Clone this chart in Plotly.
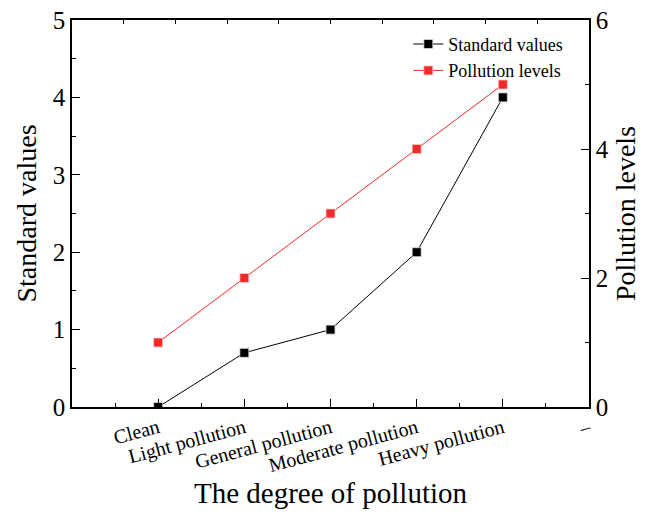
import plotly.graph_objects as go

categories = ["Clean", "Light pollution", "General pollution", "Moderate pollution", "Heavy pollution"]
cat_pos = [1, 2, 3, 4, 5]
tick_labels = ["Clean", "Light pollution", "General pollution", "Moderate pollution", "Heavy pollution", "\u2013"]
tick_pos = [1, 2, 3, 4, 5, 6]
standard_values = [0, 0.7, 1.0, 2.0, 4.0]
pollution_levels = [1, 2, 3, 4, 5]

FONT = "Liberation Serif"

fig = go.Figure()
fig.add_trace(go.Scatter(
    x=cat_pos, y=standard_values, name="Standard values", mode="lines+markers",
    line=dict(color="black", width=1),
    marker=dict(symbol="square", size=9, color="black", line=dict(color="#dddddd", width=0.8)),
    xaxis="x", yaxis="y",
))
fig.add_trace(go.Scatter(
    x=cat_pos, y=pollution_levels, name="Pollution levels", mode="lines+markers",
    line=dict(color="#ee2a2a", width=1),
    marker=dict(symbol="square", size=9, color="#ee2a2a", line=dict(color="#ffcccc", width=0.8)),
    xaxis="x", yaxis="y2",
))
# invisible trace to carry the top frame axis
fig.add_trace(go.Scatter(x=[0.5], y=[2.5], xaxis="x3", yaxis="y", showlegend=False,
                         mode="markers", marker=dict(opacity=0), hoverinfo="skip"))

fig.update_layout(
    width=656, height=517,
    margin=dict(l=72, r=67, t=20, b=110, autoexpand=False),
    paper_bgcolor="white", plot_bgcolor="white",
    font=dict(family=FONT, color="black"),
    showlegend=True,
    legend=dict(x=0.96, y=0.985, xanchor="right", yanchor="top",
                bgcolor="rgba(0,0,0,0)", font=dict(size=18, family=FONT),
                tracegroupgap=0, itemwidth=30),
    xaxis=dict(range=[0, 6], tickvals=tick_pos, ticktext=tick_labels,
               tickangle=-15, tickfont=dict(size=20), automargin=False,
               ticklabeloverflow="allow",
               ticks="inside", ticklen=8, tickwidth=1.2, tickcolor="black",
               minor=dict(dtick=0.5, ticks="inside", ticklen=4, tickcolor="black", tickwidth=1.2),
               showline=True, linecolor="black", linewidth=1.5, mirror=True,
               showgrid=False, zeroline=False,
               title=dict(text="The degree of pollution", font=dict(size=29), standoff=2)),
    xaxis3=dict(range=[0, 10], dtick=1, overlaying="x", side="top", anchor="y",
                ticks="inside", ticklen=4, tickwidth=1.2, tickcolor="black", automargin=False,
                showline=True, linecolor="black", linewidth=1.5,
                showticklabels=False, showgrid=False, zeroline=False),
    yaxis=dict(range=[0, 5], dtick=1, tickfont=dict(size=25), automargin=False,
               ticklabeloverflow="allow",
               ticks="inside", ticklen=8, tickwidth=1.2, tickcolor="black",
               minor=dict(dtick=0.5, ticks="inside", ticklen=4, tickcolor="black", tickwidth=1.2),
               showline=True, linecolor="black", linewidth=1.5,
               showgrid=False, zeroline=False,
               title=dict(text="Standard values", font=dict(size=28), standoff=8)),
    yaxis2=dict(range=[0, 6], dtick=2, overlaying="y", side="right", anchor="x",
                tickfont=dict(size=25), automargin=False,
                ticklabeloverflow="allow",
                ticks="inside", ticklen=8, tickwidth=1.2, tickcolor="black",
                minor=dict(dtick=1, ticks="inside", ticklen=4, tickcolor="black", tickwidth=1.2),
                showline=True, linecolor="black", linewidth=1.5,
                showgrid=False, zeroline=False,
                title=dict(text="Pollution levels", font=dict(size=28), standoff=8)),
)

fig.write_html("out.html", post_script="document.body.style.margin='0';",
               config={"displayModeBar": False})
